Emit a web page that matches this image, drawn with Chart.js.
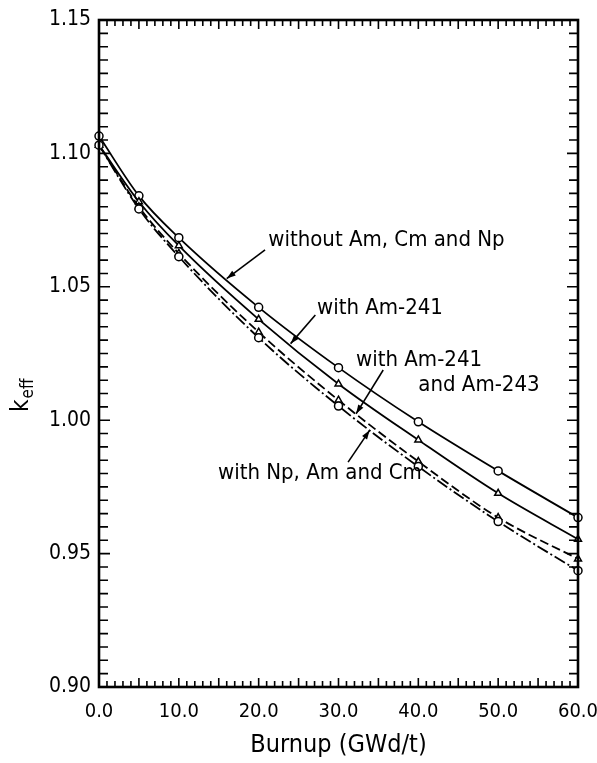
<!DOCTYPE html>
<html>
<head>
<meta charset="utf-8">
<script src="https://cdn.jsdelivr.net/npm/chart.js@4.4.1/dist/chart.umd.min.js"></script>
<style>
  html, body { margin: 0; padding: 0; background: #fff; }
  canvas { display: block; }
</style>
</head>
<body>
<canvas id="c" width="597" height="763"></canvas>
<script>
// ---- data ----
const burnup = [0, 5, 10, 20, 30, 40, 50, 60];
const withoutAmCmNp = [1.1065, 1.0841, 1.0684, 1.0423, 1.0197, 0.9994, 0.9810, 0.9635];
const withAm241 = [1.1031, 1.0819, 1.0654, 1.0378, 1.0136, 0.9926, 0.9726, 0.9554];
const withAm241Am243 = [1.1031, 1.0800, 1.0625, 1.0330, 1.0075, 0.9845, 0.9635, 0.9480];
const withNpAmCm = [1.1031, 1.0792, 1.0613, 1.0309, 1.0053, 0.9826, 0.9620, 0.9436];

const xTickLabels = ['0.0', '10.0', '20.0', '30.0', '40.0', '50.0', '60.0'];
const yTickLabels = ['0.90', '0.95', '1.00', '1.05', '1.10', '1.15'];

// annotation texts with their anchor (data coords) and leader line (data coords)
const noteTexts = [['without Am, Cm and Np'], ['with Am-241'], ['with Am-241', 'and Am-243'], ['with Np, Am and Cm']];
const noteAnchors = [[21.2, 1.0675], [27.3, 1.0421], [32.2, 1.0226], [14.9, 0.9802]];
const noteLeaders = [
  [[20.8, 1.0638], [16.0, 1.0531]],
  [[27.1, 1.0394], [24.0, 1.0287]],
  [[35.6, 1.0188], [32.2, 1.0024]],
  [[31.2, 0.9843], [33.9, 0.9962]]
];

const FONT = "'DejaVu Sans Condensed', 'DejaVu Sans', sans-serif";

function pts(ys) { return burnup.map((x, i) => ({ x: x, y: ys[i] })); }

const frameAndNotes = {
  id: 'frameAndNotes',
  afterDraw(chart) {
    const ctx = chart.ctx;
    const xs = chart.scales.x, ys = chart.scales.y;
    const a = chart.chartArea;
    ctx.save();
    ctx.strokeStyle = '#000';
    ctx.fillStyle = '#000';
    // inward ticks on all four sides
    ctx.lineWidth = 1.6;
    ctx.beginPath();
    for (let i = 0; i <= 60; i++) {
      const px = xs.getPixelForValue(i);
      const len = (i % 5 === 0) ? 9 : 6;
      ctx.moveTo(px, a.bottom); ctx.lineTo(px, a.bottom - len);
      ctx.moveTo(px, a.top); ctx.lineTo(px, a.top + len);
    }
    for (let j = 0; j <= 50; j++) {
      const v = 0.90 + j * 0.005;
      const py = ys.getPixelForValue(v);
      const len = (j % 10 === 0) ? 11 : 9;
      ctx.moveTo(a.left, py); ctx.lineTo(a.left + len, py);
      ctx.moveTo(a.right, py); ctx.lineTo(a.right - len, py);
    }
    ctx.stroke();
    // frame
    ctx.lineWidth = 2.6;
    ctx.strokeRect(a.left, a.top, a.right - a.left, a.bottom - a.top);

    // y title k_eff (rotated)
    ctx.save();
    ctx.translate(22, 392);
    ctx.rotate(-Math.PI / 2);
    ctx.textBaseline = 'alphabetic';
    ctx.textAlign = 'left';
    ctx.font = "24px " + FONT;
    const kw = ctx.measureText('k').width;
    ctx.fillText('k', -20, 6);
    ctx.font = "17px " + FONT;
    ctx.fillText('eff', -20 + kw + 1, 11);
    ctx.restore();

    // annotations
    ctx.font = "22px " + FONT;
    ctx.textBaseline = 'middle';
    ctx.textAlign = 'left';
    noteTexts.forEach((lines, k) => {
      const ax = xs.getPixelForValue(noteAnchors[k][0]);
      const ay = ys.getPixelForValue(noteAnchors[k][1]);
      lines.forEach((t, li) => {
        let off = 0;
        if (li === 1) off = xs.getPixelForValue(40.0) - ax;
        ctx.fillText(t, ax + off, ay + li * 25);
      });
      const p0 = noteLeaders[k][0], p1 = noteLeaders[k][1];
      const x0 = xs.getPixelForValue(p0[0]), y0 = ys.getPixelForValue(p0[1]);
      const x1 = xs.getPixelForValue(p1[0]), y1 = ys.getPixelForValue(p1[1]);
      ctx.lineWidth = 1.6;
      ctx.beginPath(); ctx.moveTo(x0, y0); ctx.lineTo(x1, y1); ctx.stroke();
      const ang = Math.atan2(y1 - y0, x1 - x0);
      const L = 9, W = 3;
      ctx.beginPath();
      ctx.moveTo(x1, y1);
      ctx.lineTo(x1 - L * Math.cos(ang) + W * Math.sin(ang), y1 - L * Math.sin(ang) - W * Math.cos(ang));
      ctx.lineTo(x1 - L * Math.cos(ang) - W * Math.sin(ang), y1 - L * Math.sin(ang) + W * Math.cos(ang));
      ctx.closePath(); ctx.fill();
    });
    ctx.restore();
  }
};

function ds(label, ys, style, dash) {
  return {
    label: label,
    data: pts(ys),
    borderColor: '#000',
    borderWidth: 1.8,
    borderDash: dash,
    pointStyle: style,
    pointRadius: 4,
    pointBorderWidth: 1.5,
    pointBackgroundColor: '#fff',
    pointBorderColor: '#000',
    cubicInterpolationMode: 'monotone',
    fill: false,
    clip: false
  };
}

new Chart(document.getElementById('c'), {
  type: 'line',
  data: {
    datasets: [
      ds('with Np, Am and Cm', withNpAmCm, 'circle', [12, 3, 2, 3]),
      ds('with Am-241 and Am-243', withAm241Am243, 'triangle', [9, 4]),
      ds('with Am-241', withAm241, 'triangle', []),
      ds('without Am, Cm and Np', withoutAmCmNp, 'circle', [])
    ]
  },
  options: {
    responsive: false,
    animation: false,
    devicePixelRatio: 1,
    layout: { padding: { top: 20, right: 19, left: 0, bottom: 0 } },
    plugins: { legend: { display: false }, tooltip: { enabled: false } },
    scales: {
      x: {
        type: 'linear', min: 0, max: 60,
        grid: { display: false, drawTicks: false },
        border: { display: false },
        ticks: {
          stepSize: 10, padding: 13, color: '#000', maxRotation: 0,
          font: { family: FONT, size: 20 },
          callback: (v) => xTickLabels[Math.round(v / 10)]
        },
        title: { display: true, text: 'Burnup (GWd/t)', color: '#000', font: { family: FONT, size: 25 }, padding: { top: 0, bottom: 3 } },
        afterFit: (s) => { s.height = 76; s.paddingLeft = 0; s.paddingRight = 0; }
      },
      y: {
        type: 'linear', min: 0.90, max: 1.15,
        grid: { display: false, drawTicks: false },
        border: { display: false },
        ticks: {
          stepSize: 0.05, padding: 8, color: '#000',
          font: { family: FONT, size: 21 },
          callback: (v) => yTickLabels[Math.round((v - 0.90) / 0.05)]
        },
        afterFit: (s) => { s.width = 99; s.paddingTop = 0; s.paddingBottom = 0; }
      }
    }
  },
  plugins: [frameAndNotes]
});
</script>
</body>
</html>
